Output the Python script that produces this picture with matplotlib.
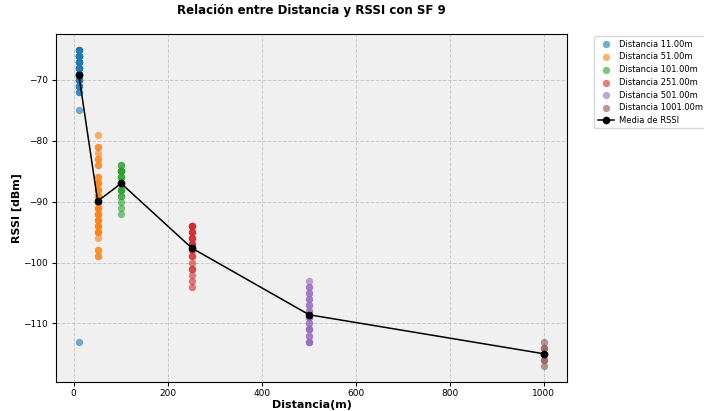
import numpy as np
import matplotlib
matplotlib.use('Agg')
import matplotlib.pyplot as plt

## distances (m) and RSSI samples
distancias = [11, 51, 101, 251, 501, 1001]

rssi_11 = [-65]*4 + [-66]*8 + [-67]*6 + [-68]*6 + [-69]*5 + [-70]*4 + [-71]*3 + [-72]*2 + [-75] + [-113]
rssi_51 = ([-79] + [-81]*2 + [-82] + [-83]*2 + [-84]*2 + [-86]*2 + [-87]*3 + [-88]*3 + [-89]*3
           + [-90]*4 + [-91]*3 + [-92]*3 + [-93]*3 + [-94]*3 + [-95]*3 + [-96] + [-98]*2 + [-99]*2)
rssi_101 = [-84]*2 + [-85]*5 + [-86]*3 + [-87]*3 + [-88]*3 + [-89]*2 + [-90] + [-91] + [-92]
rssi_251 = ([-94]*4 + [-95]*3 + [-96]*3 + [-97]*3 + [-98]*2 + [-99]*2 + [-100] + [-101]*2
            + [-102] + [-103] + [-104])
rssi_501 = ([-103] + [-104]*2 + [-105]*2 + [-106]*2 + [-107]*2 + [-108]*2 + [-109]*3
            + [-110]*2 + [-111]*3 + [-112]*2 + [-113]*3)
rssi_1001 = [-113] + [-114]*2 + [-115]*2 + [-116]*2 + [-117]

muestras = [rssi_11, rssi_51, rssi_101, rssi_251, rssi_501, rssi_1001]

fig = plt.figure(figsize=(7.04, 4.11), dpi=100)
ax = fig.add_axes([0.079, 0.071, 0.727, 0.847])
ax.set_facecolor('#f0f0f0')

for d, vals in zip(distancias, muestras):
    ax.scatter([d]*len(vals), vals, s=28, alpha=0.6, linewidths=0, label='Distancia %.2fm' % d, zorder=2)

medias = [np.mean(v) for v in muestras]
ax.plot(distancias, medias, color='black', marker='o', markersize=4.5, linewidth=1.1,
        label='Media de RSSI', zorder=3)

ax.grid(True, linestyle='--', color='#c8c8c8', linewidth=0.7)
ax.set_axisbelow(True)
ax.tick_params(labelsize=6.5, length=3, pad=2.5)
ax.set_xlabel('Distancia(m)', fontsize=8, fontweight='bold', labelpad=1)
ax.set_ylabel('RSSI [dBm]', fontsize=8, fontweight='bold', labelpad=1)
ax.set_title('Relación entre Distancia y RSSI con SF 9', fontsize=8.5, fontweight='bold', pad=14)
ax.legend(loc='upper left', bbox_to_anchor=(1.048, 1.0), fontsize=6.0, borderaxespad=0.3,
          handletextpad=0.6, labelspacing=0.45)

fig.savefig('out.png', dpi=100)
